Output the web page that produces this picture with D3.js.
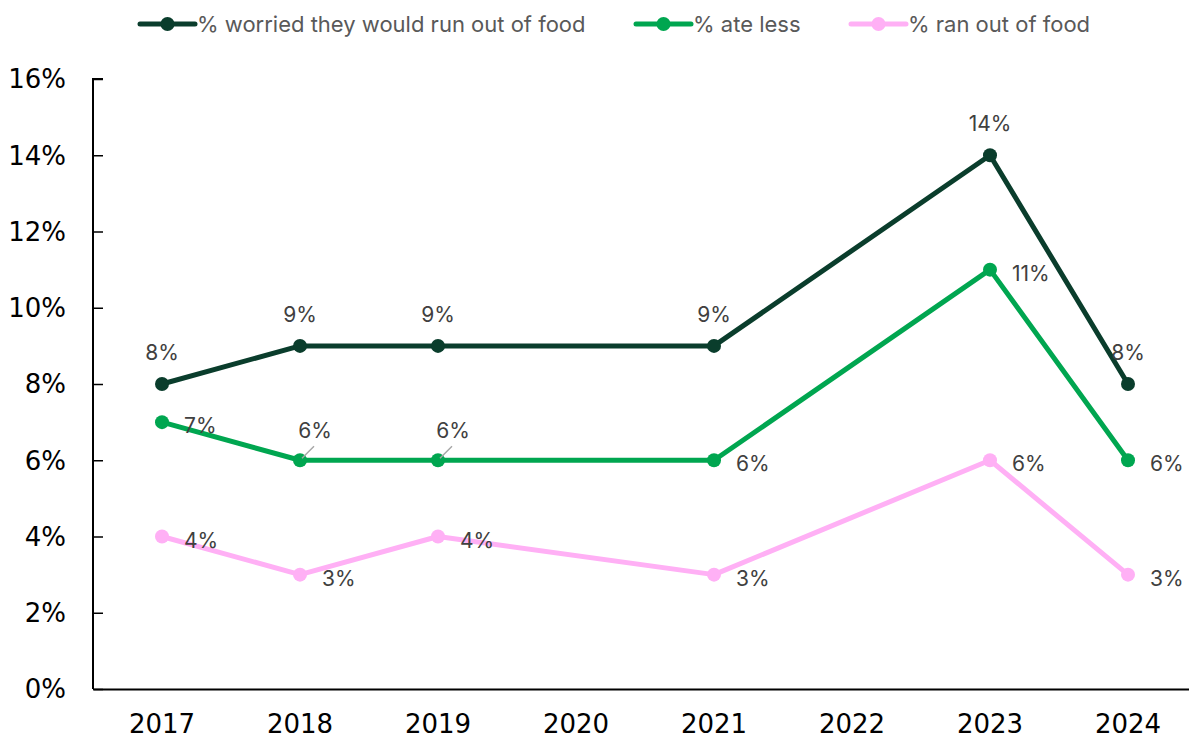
<!DOCTYPE html>
<html>
  <head>
    <meta charset="utf-8" />
    <style>
      body { margin: 0; background: white; }
      .axis-text { font-family: 'DejaVu Sans', sans-serif; font-size: 26px; fill: black; }
      .legend-text { font-family: Inter, sans-serif; font-size: 22px; fill: #595959; }
      .value-label { font-family: Inter, sans-serif; font-size: 21px; fill: #404040; }
      .series-line { fill: none; stroke-width: 5; stroke-linejoin: round; }
    </style>
  </head>
  <body>
    <script src="https://d3js.org/d3.v7.min.js"></script>
    <script>
      const years = ['2017', '2018', '2019', '2020', '2021', '2022', '2023', '2024'];
      const dataYears = ['2017', '2018', '2019', '2021', '2023', '2024'];
      const worried = [8, 9, 9, 9, 14, 8];
      const ateLess = [7, 6, 6, 6, 11, 6];
      const ranOut = [4, 3, 4, 3, 6, 3];
      const yTicks = [0, 2, 4, 6, 8, 10, 12, 14, 16];
      const seriesNames = ['% worried they would run out of food', '% ate less', '% ran out of food'];

      // label placement per point: a = above, r = right, ul = above with leader
      const placements = [
        ['a', 'a', 'a', 'a', 'a', 'a'],
        ['r', 'ul', 'ul', 'r', 'r', 'r'],
        ['r', 'r', 'r', 'r', 'r', 'r'],
      ];
      const colors = ['#0a3d2c', '#00a650', '#ffb0f5'];

      const width = 1189, height = 740;
      const svg = d3.select('body').append('svg').attr('width', width).attr('height', height);

      const x = d3.scaleBand().domain(years).range([93, 1197]);
      const y = d3.scaleLinear().domain([0, 16]).range([689, 79]);
      const cx = (yr) => x(yr) + x.bandwidth() / 2;

      // axes
      const yAxis = svg.append('g').attr('transform', 'translate(93,0)')
        .call(d3.axisRight(y).tickValues(yTicks).tickSize(10).tickFormat(''));
      yAxis.select('.domain').attr('stroke', 'black').attr('stroke-width', 2).attr('d', `M10,${y(16)}H0V${y(0)}`);
      yAxis.selectAll('.tick line').attr('stroke', 'black').attr('stroke-width', 1.5);

      svg.append('g').selectAll('text').data(yTicks).join('text')
        .attr('class', 'axis-text')
        .attr('x', 66).attr('y', (d) => y(d)).attr('dy', '0.36em')
        .attr('text-anchor', 'end')
        .text((d) => d + '%');

      const xAxis = svg.append('g').attr('transform', `translate(0,${y(0)})`)
        .call(d3.axisBottom(x).tickSize(0).tickPadding(26));
      xAxis.select('.domain').attr('stroke', 'black').attr('stroke-width', 2);
      xAxis.selectAll('.tick text').attr('class', 'axis-text').attr('font-size', null).attr('font-family', null);

      // series
      const series = [worried, ateLess, ranOut].map((vals, i) => ({
        name: seriesNames[i],
        color: colors[i],
        values: vals.map((v, j) => ({ year: dataYears[j], value: v, place: placements[i][j] })),
      }));

      const line = d3.line().x((d) => cx(d.year)).y((d) => y(d.value));

      const g = svg.append('g').selectAll('g').data(series.slice().reverse()).join('g');
      g.append('path').attr('class', 'series-line').attr('d', (d) => line(d.values)).attr('stroke', (d) => d.color);
      g.selectAll('circle').data((d) => d.values.map((v) => ({ ...v, color: d.color }))).join('circle')
        .attr('cx', (d) => cx(d.year)).attr('cy', (d) => y(d.value)).attr('r', 7).attr('fill', (d) => d.color);

      // labels
      const offsets = {
        a: { dx: 0, dy: -24, anchor: 'middle' },
        r: { dx: 22, dy: 11, anchor: 'start' },
        ul: { dx: 15, dy: -22, anchor: 'middle' },
      };
      const labels = svg.append('g');
      series.forEach((s) => {
        s.values.forEach((d) => {
          const o = offsets[d.place];
          const px = cx(d.year), py = y(d.value);
          if (d.place === 'ul') {
            labels.append('line').attr('x1', px + 2).attr('y1', py - 2).attr('x2', px + 14).attr('y2', py - 14)
              .attr('stroke', '#a6a6a6').attr('stroke-width', 1.5);
          }
          labels.append('text').attr('class', 'value-label')
            .attr('x', px + o.dx).attr('y', py + o.dy)
            .attr('text-anchor', o.anchor)
            .text(d.value + '%');
        });
      });

      // legend
      const legendX = [140, 636, 851];
      const legend = svg.append('g').selectAll('g').data(series).join('g')
        .attr('transform', (d, i) => `translate(${legendX[i]},24)`);
      legend.append('line').attr('x1', 0).attr('x2', 55).attr('stroke', (d) => d.color)
        .attr('stroke-width', 5).attr('stroke-linecap', 'round');
      legend.append('circle').attr('cx', 27.5).attr('r', 7).attr('fill', (d) => d.color);
      legend.append('text').attr('class', 'legend-text').attr('x', 57).attr('dy', '0.36em').text((d) => d.name);
    </script>
  </body>
</html>
